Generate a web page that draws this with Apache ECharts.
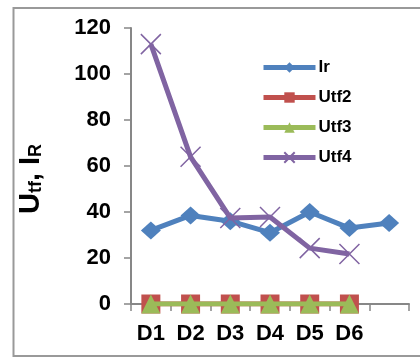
<!DOCTYPE html>
<html>
<head>
<meta charset="utf-8">
<script src="https://cdn.jsdelivr.net/npm/echarts@6/dist/echarts.min.js"></script>
<style>
  html, body { margin: 0; padding: 0; background: #fff; }
  #chart { width: 420px; height: 358px; }
</style>
</head>
<body>
<div id="chart"></div>
<script>
// categories (last slot has no label, Ir still has a point there)
const categories = ["D1", "D2", "D3", "D4", "D5", "D6", ""];

const irValues = [32, 38.5, 36, 31, 40, 33, 35.2];
const utf2Values = [0, 0, 0, 0, 0, 0, null];
const utf3Values = [0, 0, 0, 0, 0, 0, null];
const utf4Values = [113, 64, 37.4, 37.8, 24.3, 21.7, null];

const colors = ["#4F81BD", "#C0504D", "#9BBB59", "#8064A2"];
const crossPath = "path://M0,0 L10,10 M10,0 L0,10";

const chart = echarts.init(document.getElementById("chart"), null, { renderer: "canvas" });

const fontFamily = "Liberation Sans, Arial, sans-serif";

chart.setOption({
  animation: false,
  backgroundColor: "#fff",
  color: colors,
  textStyle: { fontFamily: fontFamily },
  graphic: [
    {
      type: "rect",
      shape: { x: 13.5, y: 8, width: 430, height: 348 },
      style: { fill: null, stroke: "#999", lineWidth: 2 },
      silent: true
    }
  ],
  grid: { left: 131, right: 11, top: 28, bottom: 54 },
  legend: {
    orient: "vertical",
    left: 261,
    top: 59,
    padding: 0,
    itemWidth: 52,
    itemHeight: 13,
    itemGap: 13,
    lineStyle: { width: 5 },
    textStyle: { fontSize: 17, fontWeight: "bold", color: "#000", fontFamily: fontFamily, padding: [0, 0, 0, -2] },
    data: ["Ir", "Utf2", "Utf3", "Utf4"]
  },
  xAxis: {
    type: "category",
    data: categories,
    boundaryGap: true,
    axisLine: { lineStyle: { color: "#878787", width: 2 } },
    axisTick: { show: true, length: 7, lineStyle: { color: "#878787", width: 1.5 } },
    axisLabel: { color: "#000", fontSize: 22, fontWeight: "bold", margin: 19 },
    splitLine: { show: false }
  },
  yAxis: {
    type: "value",
    min: 0,
    max: 120,
    interval: 20,
    name: "{b|U}{s|tf}{b|, I}{s|R}",
    nameLocation: "middle",
    nameGap: 86,
    nameTextStyle: {
      padding: [0, 26, 0, 0],
      rich: {
        b: { fontSize: 29, fontWeight: "bold", color: "#000", fontFamily: fontFamily, lineHeight: 32, verticalAlign: "bottom" },
        s: { fontSize: 18, fontWeight: "bold", color: "#000", fontFamily: fontFamily, lineHeight: 32, verticalAlign: "bottom", padding: [12, 0, 0, 0] }
      }
    },
    axisLine: { show: true, lineStyle: { color: "#878787", width: 2 } },
    axisTick: { show: true, length: 7, inside: false, lineStyle: { color: "#878787", width: 1.5 } },
    axisLabel: { color: "#000", fontSize: 22, fontWeight: "bold", margin: 20 },
    splitLine: { show: false }
  },
  series: [
    {
      name: "Ir",
      type: "line",
      data: irValues,
      symbol: "diamond",
      symbolSize: [20, 18],
      lineStyle: { width: 5 },
      itemStyle: { color: colors[0] },
      z: 2
    },
    {
      name: "Utf2",
      type: "line",
      data: utf2Values,
      symbol: "rect",
      symbolSize: 19,
      lineStyle: { width: 5 },
      itemStyle: { color: colors[1] },
      z: 3
    },
    {
      name: "Utf3",
      type: "line",
      data: utf3Values,
      symbol: "triangle",
      symbolSize: 19,
      lineStyle: { width: 5 },
      itemStyle: { color: colors[2] },
      z: 4
    },
    {
      name: "Utf4",
      type: "line",
      data: utf4Values,
      symbol: crossPath,
      symbolSize: 20,
      lineStyle: { width: 5 },
      itemStyle: { color: colors[3], borderColor: colors[3], borderWidth: 1.5 },
      z: 5
    }
  ]
});
</script>
</body>
</html>
